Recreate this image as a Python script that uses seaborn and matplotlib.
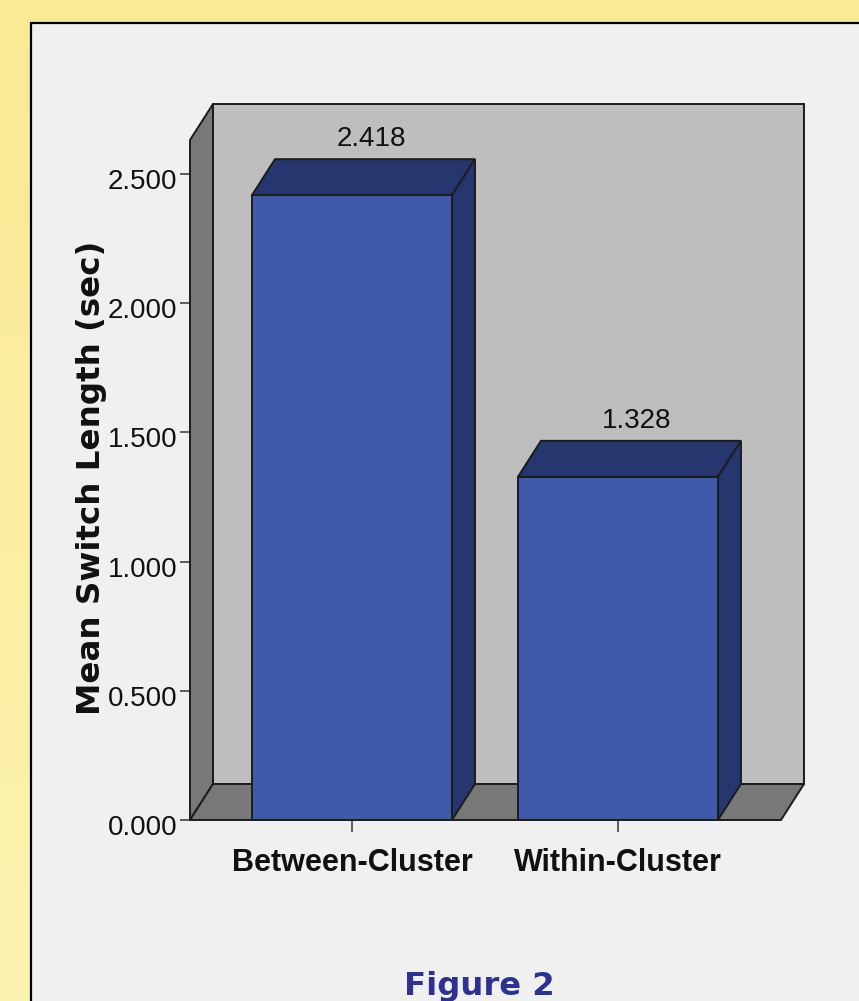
# -*- coding: utf-8 -*-
import matplotlib
matplotlib.use("Agg")
import matplotlib.pyplot as plt
from matplotlib.patches import Polygon, Rectangle
from matplotlib.transforms import ScaledTranslation
import numpy as np
import pandas as pd
import seaborn as sns

# datos
categorias = ["Between-Cluster", "Within-Cluster"]
valores = [2.418, 1.328]
etiquetas = ["2.418", "1.328"]
ticks_y = [0.0, 0.5, 1.0, 1.5, 2.0, 2.5]
ticks_y_txt = ["0.000", "0.500", "1.000", "1.500", "2.000", "2.500"]

W, H = 859, 1001
FUENTE = "Liberation Sans"
LINEA = "#1c1c1c"
AZUL = "#3f59ab"
AZUL_OSC = "#26366e"

sns.set_theme(style="white")
fig = plt.figure(figsize=(W / 100, H / 100), dpi=100)

# fondo amarillo con degradado y panel gris
fondo = fig.add_axes([0, 0, 1, 1])
fondo.imshow(np.linspace(0, 1, 256).reshape(-1, 1), aspect="auto",
             extent=(0, W, H, 0), zorder=0,
             cmap=matplotlib.colors.LinearSegmentedColormap.from_list("am", ["#faea94", "#fdf3b0"]))
fondo.add_patch(Rectangle((30.5, 23), W, H, fc="#f0f0f0", ec="black", lw=1.6, zorder=1))
fondo.set_xlim(0, W)
fondo.set_ylim(H, 0)
fondo.axis("off")

ax = fig.add_axes([190 / W, (H - 820) / H, (781 - 190) / W, (820 - 140) / H])
ax.patch.set_alpha(0)

df = pd.DataFrame({"grupo": categorias, "media": valores})
sns.barplot(data=df, x="grupo", y="media", color=AZUL, saturation=1, width=0.752,
            edgecolor=LINEA, linewidth=1.4, zorder=5, ax=ax)

x0, x1 = -0.609, 1.613
y1 = 680 / (646 / 2.5)
ax.set_xlim(x0, x1)
ax.set_ylim(0, y1)

# profundidad del efecto 3D
dx = 23 / 266
dy = 36 / (646 / 2.5)


def caja(puntos, color, z):
    ax.add_patch(Polygon(puntos, closed=True, fc=color, ec=LINEA, lw=1.4, zorder=z, clip_on=False))


caja([(x0 + dx, dy), (x1 + dx, dy), (x1 + dx, y1 + dy), (x0 + dx, y1 + dy)], "#bebebe", 1)
caja([(x0, 0), (x0 + dx, dy), (x0 + dx, y1 + dy), (x0, y1)], "#787878", 2)
caja([(x0, 0), (x1, 0), (x1 + dx, dy), (x0 + dx, dy)], "#787878", 2)

for barra, txt in zip(ax.containers[0], etiquetas):
    xa = barra.get_x()
    xb = xa + barra.get_width()
    alto = barra.get_height()
    caja([(xa, alto), (xb, alto), (xb + dx, alto + dy), (xa + dx, alto + dy)], AZUL_OSC, 4)
    caja([(xb, 0), (xb + dx, dy), (xb + dx, alto + dy), (xb, alto)], AZUL_OSC, 4)
    ax.annotate(txt, (xa + barra.get_width() / 2 + dx * 0.83, alto + dy), xytext=(0, 5),
                textcoords="offset points", ha="center", va="bottom",
                family=FUENTE, fontsize=20, color="#111111", annotation_clip=False)

sns.despine(ax=ax, left=True, bottom=True, top=True, right=True)
ax.set_yticks(ticks_y, ticks_y_txt, family=FUENTE, fontsize=20, color="#111111")
ax.set_xticks(range(len(categorias)), categorias, family=FUENTE, fontsize=22,
              fontweight="bold", color="#111111")
ax.tick_params(axis="y", length=7.5, width=1.2, color="#444444", pad=1.5, left=True)
ax.tick_params(axis="x", length=8.5, width=1.2, color="#444444", pad=12, bottom=True)
ax.set_xlabel("")
ax.set_ylabel("")

# en el original los numeros quedan un poco por debajo de la marca
bajar = ScaledTranslation(0, -5 / 100, fig.dpi_scale_trans)
for lab in ax.get_yticklabels():
    lab.set_transform(lab.get_transform() + bajar)

fig.text(92 / W, 1 - 478 / H, "Mean Switch Length (sec)", rotation=90, ha="center", va="center",
         family="DejaVu Sans", fontweight="bold", fontsize=23.4, color="#111111")
fig.text(479 / W, 1 - 986 / H, "Figure 2", ha="center", va="center",
         family="DejaVu Sans", fontweight="bold", fontsize=23.2, color="#2e3192")

fig.savefig("out.png", dpi=100)
